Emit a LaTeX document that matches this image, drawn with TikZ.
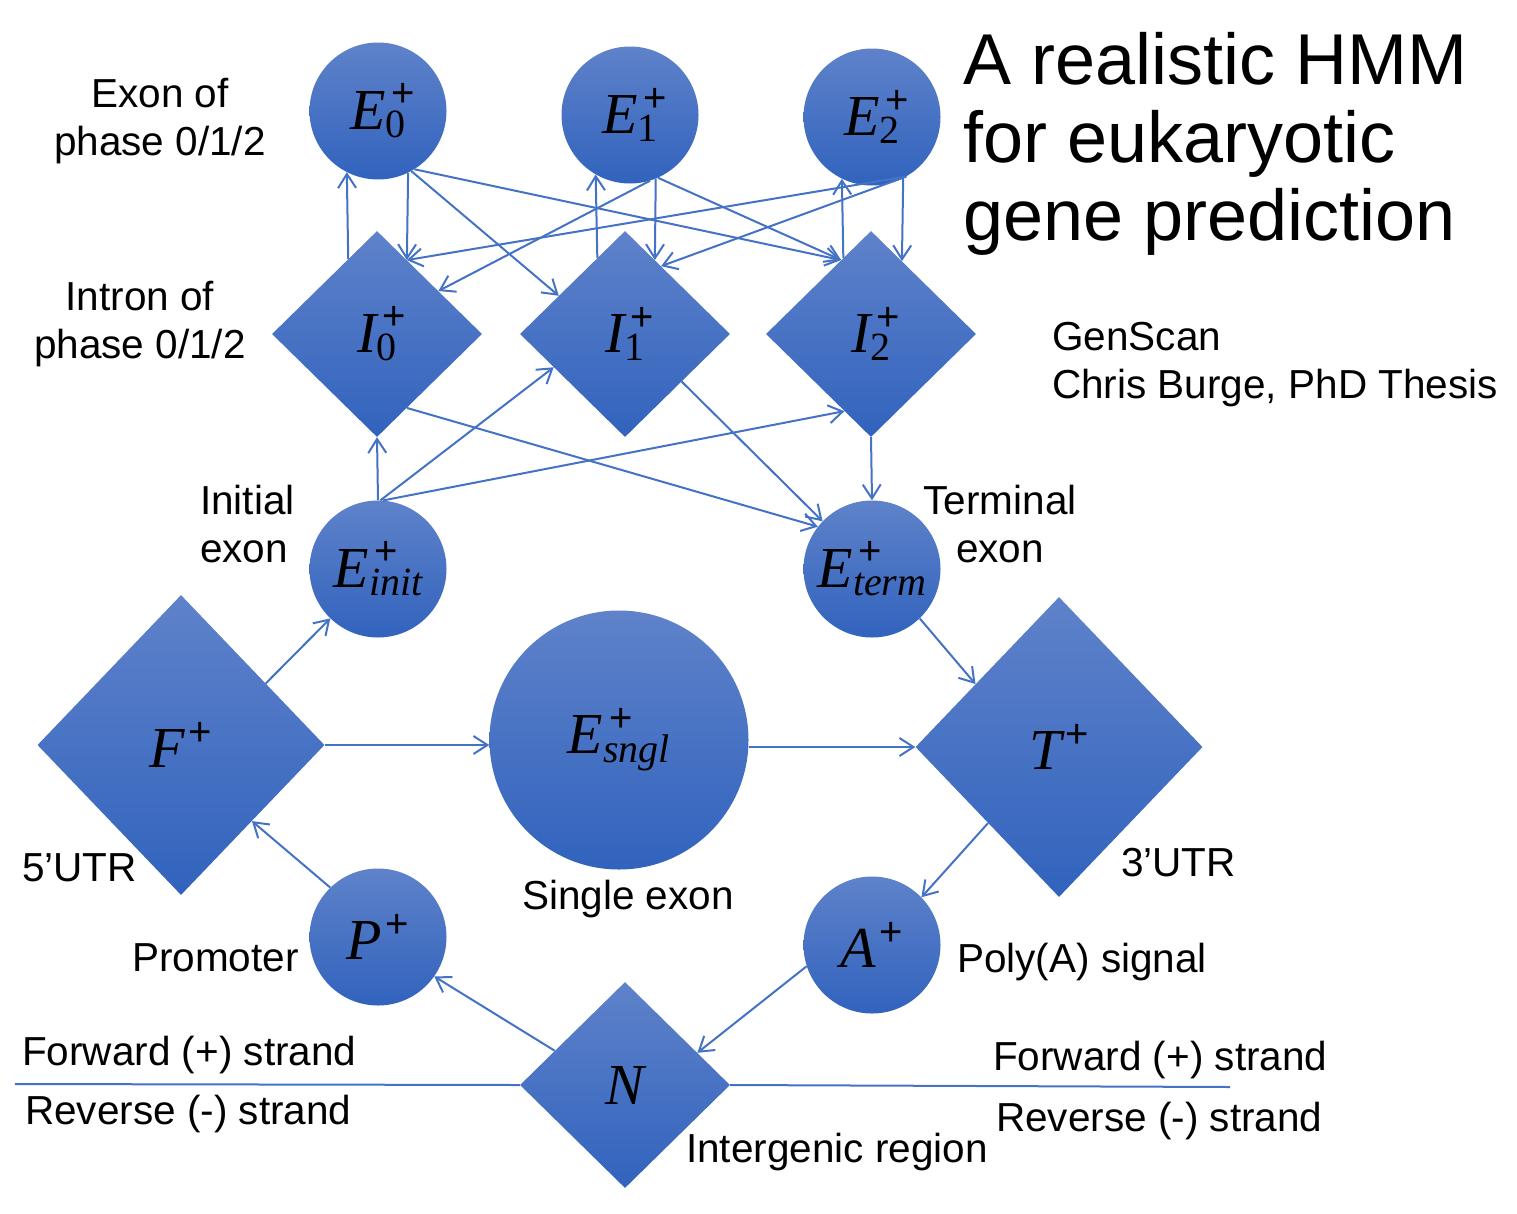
\documentclass[tikz,border=0pt]{standalone}
\usepackage{fontspec}
\setmainfont{Liberation Sans}
\newfontfamily\tnr{Liberation Serif}
\usepackage{tikz}
\usetikzlibrary{arrows.meta, positioning, shapes.geometric, calc}
\definecolor{hmmTop}{RGB}{95,130,202}
\definecolor{hmmBot}{RGB}{49,99,189}
\definecolor{hmmLine}{RGB}{68,114,196}
% state labels: letter, superscript +, subscript
\newcommand{\st}[2]{{\tnr\itshape #1}\rlap{\kern0.1em\raisebox{0.38em}{\fontsize{40}{42}\selectfont +}}%
  \raisebox{-0.15em}{\fontsize{40}{42}\selectfont\tnr #2}}
\newcommand{\stp}[1]{{\tnr\itshape #1}\kern0.06em\raisebox{0.38em}{\fontsize{40}{42}\selectfont +}}

\begin{document}
\begin{tikzpicture}[
    x=1pt,y=-1pt,
    circ/.style={circle,draw=none,inner sep=0pt,minimum size=137,
      top color=hmmTop,bottom color=hmmBot,font=\fontsize{58}{62}\selectfont},
    diam/.style={diamond,draw=none,inner sep=0pt,minimum width=210,minimum height=206,
      top color=hmmTop,bottom color=hmmBot,font=\fontsize{58}{62}\selectfont},
    bigdiam/.style={diam,minimum width=287,minimum height=300},
    arrow/.style={-{Straight Barb[length=14pt,width=18pt]},line width=2pt,hmmLine},
    strand/.style={line width=2pt,hmmLine},
    lbl/.style={inner sep=0pt,font=\fontsize{40.5}{48}\selectfont},
    title/.style={inner sep=0pt,font=\fontsize{72}{78}\selectfont}
  ]
  \useasboundingbox (0,0) rectangle (1517,1213);

  % Exon states
  \node[circ] (E0) at (378,111) {\st{E}{0}};
  \node[circ] (E1) at (630,115) {\st{E}{1}};
  \node[circ] (E2) at (872,117) {\st{E}{2}};

  % Intron states
  \node[diam] (I0) at (377,334) {\st{I}{0}};
  \node[diam] (I1) at (625,334) {\st{I}{1}};
  \node[diam] (I2) at (871,334) {\st{I}{2}};

  % Initial, terminal and single exons
  \node[circ] (Einit) at (378,569) {\st{E}{\itshape init}};
  \node[circ] (Eterm) at (872,569) {\st{E}{\itshape term}};
  \node[circ,minimum size=259] (Esngl) at (619,740) {\st{E}{\itshape sngl}};

  % UTRs, promoter, poly(A), intergenic
  \node[bigdiam] (F) at (181,745) {\stp{F}};
  \node[bigdiam] (T) at (1059,747) {\stp{T}};
  \node[circ] (P) at (378,937) {\stp{P}};
  \node[circ] (A) at (872,945) {\stp{A}};
  \node[diam] (N) at (625,1085) {{\tnr\itshape N}};

  % exon <-> intron transitions
  \draw[arrow] (I0.111) -- (E0.-117);
  \draw[arrow] (E0.-64) -- (I0.68);
  \draw[arrow] (E0.-61) -- (I1.150);
  \draw[arrow] (E0.-58) -- (I2.112);
  \draw[arrow] (I1.110) -- (E1.-120);
  \draw[arrow] (E1.-68) -- (I1.68);
  \draw[arrow] (E1.-73) -- (I0.35);
  \draw[arrow] (E1.-66) -- (I2.112);
  \draw[arrow] (I2.110) -- (E2.-116);
  \draw[arrow] (E2.-63) -- (I2.67);
  \draw[arrow] (E2.-60) -- (I0.68);
  \draw[arrow] (E2.-60) -- (I1.62);

  % initial / terminal exon transitions
  \draw[arrow] (Einit.north) -- (I0.south);
  \draw[arrow] (Einit.88) -- (I1.-155);
  \draw[arrow] (Einit.86) -- (I2.-109);
  \draw[arrow] (I0.-68) -- (Eterm.142);
  \draw[arrow] (I1.-40) -- (Eterm.136);
  \draw[arrow] (I2.south) -- (Eterm.north);

  % outer cycle
  \draw[arrow] (F.36) -- (Einit.-134);
  \draw[arrow] (F.east) -- (F.east -| Esngl.west);
  \draw[arrow] (T.west -| Esngl.east) -- (T.west);
  \draw[arrow] (Eterm.-46) -- (T.143);
  \draw[arrow] (T.-133) -- (A.44);
  \draw[arrow] (A.-162) -- (N.24);
  \draw[arrow] (N.154) -- (P.-35);
  \draw[arrow] (P.134) -- (F.-47);

  % strand separator
  \coordinate (strandL) at (15,1084);
  \coordinate (strandR) at (1230,1087);
  \draw[strand] (strandL) -- (N.west);
  \draw[strand] (N.east) -- (strandR);

  % labels
  \node[lbl,align=center] (exonlbl) at (160,121) {Exon of\\phase 0/1/2};
  \node[lbl,align=center] (intronlbl) at (140,324) {Intron of\\phase 0/1/2};
  \node[lbl,align=left,anchor=west] (initlbl) at (200,524) {Initial\\exon};
  \node[lbl,align=center] (termlbl) at (1000,524) {Terminal\\exon};
  \node[lbl,align=left,anchor=west] (srclbl) at (1052,365) {GenScan\\Chris Burge, PhD Thesis};
  \node[lbl,anchor=west] (utr5) at (22,868) {5’UTR};
  \node[lbl,anchor=west] (utr3) at (1121,863) {3’UTR};
  \node[lbl] (snglbl) at (628,899) {Single exon};
  \node[lbl,anchor=west] (prolbl) at (132,958) {Promoter};
  \node[lbl,anchor=west] (polylbl) at (957,962) {Poly(A) signal};
  \node[lbl,anchor=west] (fwdL) at (22,1055) {Forward (+) strand};
  \node[lbl,anchor=west] (revL) at (25,1114) {Reverse (-) strand};
  \node[lbl,anchor=west] (fwdR) at (993,1060) {Forward (+) strand};
  \node[lbl,anchor=west] (revR) at (996,1121) {Reverse (-) strand};
  \node[lbl,anchor=west] (interlbl) at (686,1152) {Intergenic region};

  % title
  \node[title,align=left,anchor=west] (titlelbl) at (963,144) {A realistic HMM\\for eukaryotic\\gene prediction};
\end{tikzpicture}
\end{document}
